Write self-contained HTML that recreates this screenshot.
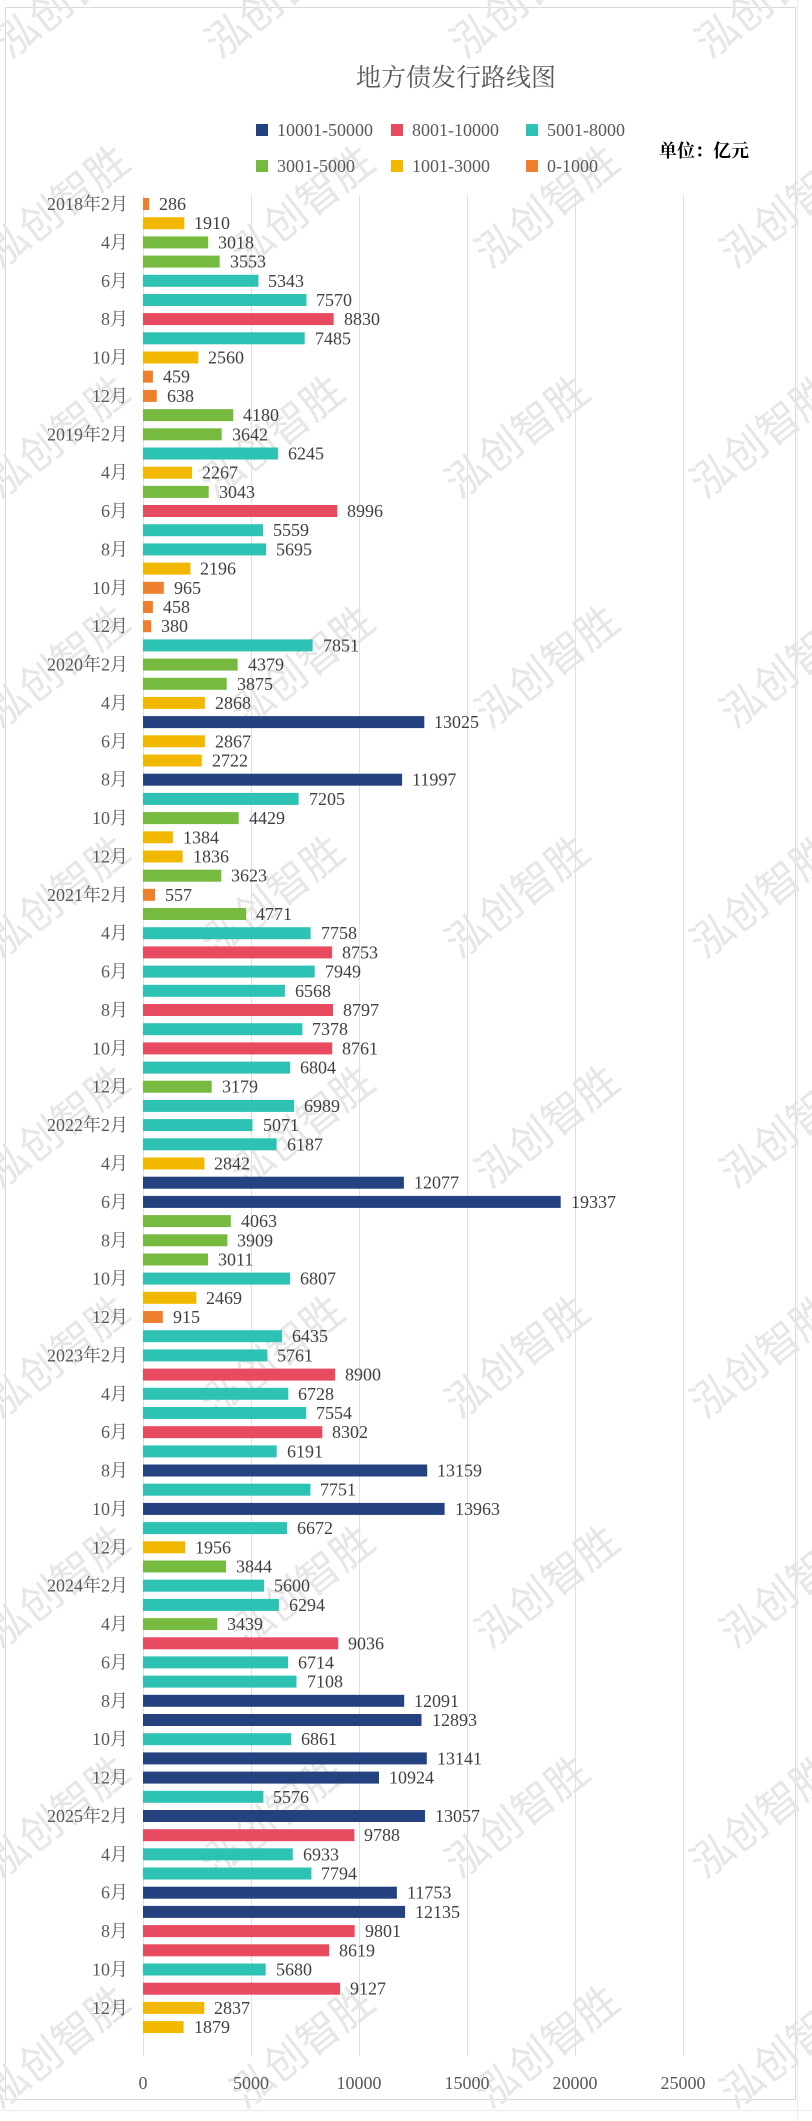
<!DOCTYPE html>
<html><head><meta charset="utf-8"><style>
html,body{margin:0;padding:0;background:#fff;}
svg{display:block;}
.t{font-family:"Liberation Serif","Noto Serif CJK SC",serif;font-size:18px;fill:#404040;}
.c{font-family:"Liberation Serif","Noto Serif CJK SC",serif;font-size:18px;fill:#595959;text-anchor:end;}
.w{font-family:"Noto Sans CJK SC",sans-serif;font-size:42px;fill:#e6e6e6;}
</style></head><body>
<svg width="812" height="2121" xmlns="http://www.w3.org/2000/svg">
<g stroke="#ececec" stroke-width="1">
<line x1="797.5" y1="0" x2="797.5" y2="2121"/>
<line x1="0" y1="2110.5" x2="812" y2="2110.5"/>
</g>
<rect x="5.5" y="7.5" width="790" height="2092" fill="#fff" stroke="#d9d9d9"/>
<g class="w" transform="">
<text transform="translate(10,60) rotate(-38)">泓创智胜</text>
<text transform="translate(220,60) rotate(-38)">泓创智胜</text>
<text transform="translate(465,60) rotate(-38)">泓创智胜</text>
<text transform="translate(710,60) rotate(-38)">泓创智胜</text>
<text transform="translate(0,270) rotate(-38)">泓创智胜</text>
<text transform="translate(245,270) rotate(-38)">泓创智胜</text>
<text transform="translate(490,270) rotate(-38)">泓创智胜</text>
<text transform="translate(735,270) rotate(-38)">泓创智胜</text>
<text transform="translate(0,500) rotate(-38)">泓创智胜</text>
<text transform="translate(215,500) rotate(-38)">泓创智胜</text>
<text transform="translate(460,500) rotate(-38)">泓创智胜</text>
<text transform="translate(705,500) rotate(-38)">泓创智胜</text>
<text transform="translate(0,730) rotate(-38)">泓创智胜</text>
<text transform="translate(245,730) rotate(-38)">泓创智胜</text>
<text transform="translate(490,730) rotate(-38)">泓创智胜</text>
<text transform="translate(735,730) rotate(-38)">泓创智胜</text>
<text transform="translate(0,960) rotate(-38)">泓创智胜</text>
<text transform="translate(215,960) rotate(-38)">泓创智胜</text>
<text transform="translate(460,960) rotate(-38)">泓创智胜</text>
<text transform="translate(705,960) rotate(-38)">泓创智胜</text>
<text transform="translate(0,1190) rotate(-38)">泓创智胜</text>
<text transform="translate(245,1190) rotate(-38)">泓创智胜</text>
<text transform="translate(490,1190) rotate(-38)">泓创智胜</text>
<text transform="translate(735,1190) rotate(-38)">泓创智胜</text>
<text transform="translate(0,1420) rotate(-38)">泓创智胜</text>
<text transform="translate(215,1420) rotate(-38)">泓创智胜</text>
<text transform="translate(460,1420) rotate(-38)">泓创智胜</text>
<text transform="translate(705,1420) rotate(-38)">泓创智胜</text>
<text transform="translate(0,1650) rotate(-38)">泓创智胜</text>
<text transform="translate(245,1650) rotate(-38)">泓创智胜</text>
<text transform="translate(490,1650) rotate(-38)">泓创智胜</text>
<text transform="translate(735,1650) rotate(-38)">泓创智胜</text>
<text transform="translate(0,1880) rotate(-38)">泓创智胜</text>
<text transform="translate(215,1880) rotate(-38)">泓创智胜</text>
<text transform="translate(460,1880) rotate(-38)">泓创智胜</text>
<text transform="translate(705,1880) rotate(-38)">泓创智胜</text>
<text transform="translate(0,2110) rotate(-38)">泓创智胜</text>
<text transform="translate(245,2110) rotate(-38)">泓创智胜</text>
<text transform="translate(490,2110) rotate(-38)">泓创智胜</text>
<text transform="translate(735,2110) rotate(-38)">泓创智胜</text>
</g>
<text x="456" y="86" text-anchor="middle" style="font-family:'Noto Serif CJK SC',serif;font-size:25px;fill:#595959">地方债发行路线图</text>
<g class="t" style="font-size:18px;fill:#595959">
<rect x="256" y="124" width="12" height="12" fill="#24427f"/><text x="277" y="136">10001-50000</text>
<rect x="391" y="124" width="12" height="12" fill="#e84a5f"/><text x="412" y="136">8001-10000</text>
<rect x="526" y="124" width="12" height="12" fill="#2ec2b4"/><text x="547" y="136">5001-8000</text>
<rect x="256" y="160" width="12" height="12" fill="#76bb40"/><text x="277" y="172">3001-5000</text>
<rect x="391" y="160" width="12" height="12" fill="#f2b800"/><text x="412" y="172">1001-3000</text>
<rect x="526" y="160" width="12" height="12" fill="#ef7f2d"/><text x="547" y="172">0-1000</text>
</g>
<text x="659" y="157" style="font-family:'Noto Serif CJK SC',serif;font-size:18px;fill:#000;font-weight:bold">单位：亿元</text>
<g stroke="#e0e0e0" stroke-width="1">
<line x1="143.5" y1="195" x2="143.5" y2="2056"/>
<line x1="251.5" y1="195" x2="251.5" y2="2056"/>
<line x1="359.5" y1="195" x2="359.5" y2="2056"/>
<line x1="467.5" y1="195" x2="467.5" y2="2056"/>
<line x1="575.5" y1="195" x2="575.5" y2="2056"/>
<line x1="683.5" y1="195" x2="683.5" y2="2056"/>
</g>
<g class="t" text-anchor="middle" style="fill:#595959">
<text x="143" y="2089">0</text><text x="251" y="2089">5000</text><text x="359" y="2089">10000</text><text x="467" y="2089">15000</text><text x="575" y="2089">20000</text><text x="683" y="2089">25000</text>
</g>
<g id="bars">
<g transform="translate(143,204)"><rect y="-6" width="6.2" height="12" fill="#ef7f2d"/><text class="t" x="16" y="6">286</text><text class="c" x="-15" y="6">2018年2月</text></g>
<g transform="translate(143,223.2)"><rect y="-6" width="41.3" height="12" fill="#f2b800"/><text class="t" x="51" y="6">1910</text></g>
<g transform="translate(143,242.4)"><rect y="-6" width="65.2" height="12" fill="#76bb40"/><text class="t" x="75" y="6">3018</text><text class="c" x="-15" y="6">4月</text></g>
<g transform="translate(143,261.6)"><rect y="-6" width="76.7" height="12" fill="#76bb40"/><text class="t" x="87" y="6">3553</text></g>
<g transform="translate(143,280.8)"><rect y="-6" width="115.4" height="12" fill="#2ec2b4"/><text class="t" x="125" y="6">5343</text><text class="c" x="-15" y="6">6月</text></g>
<g transform="translate(143,300)"><rect y="-6" width="163.5" height="12" fill="#2ec2b4"/><text class="t" x="173" y="6">7570</text></g>
<g transform="translate(143,319.1)"><rect y="-6" width="190.7" height="12" fill="#e84a5f"/><text class="t" x="201" y="6">8830</text><text class="c" x="-15" y="6">8月</text></g>
<g transform="translate(143,338.3)"><rect y="-6" width="161.7" height="12" fill="#2ec2b4"/><text class="t" x="172" y="6">7485</text></g>
<g transform="translate(143,357.5)"><rect y="-6" width="55.3" height="12" fill="#f2b800"/><text class="t" x="65" y="6">2560</text><text class="c" x="-15" y="6">10月</text></g>
<g transform="translate(143,376.7)"><rect y="-6" width="9.9" height="12" fill="#ef7f2d"/><text class="t" x="20" y="6">459</text></g>
<g transform="translate(143,395.9)"><rect y="-6" width="13.8" height="12" fill="#ef7f2d"/><text class="t" x="24" y="6">638</text><text class="c" x="-15" y="6">12月</text></g>
<g transform="translate(143,415.1)"><rect y="-6" width="90.3" height="12" fill="#76bb40"/><text class="t" x="100" y="6">4180</text></g>
<g transform="translate(143,434.3)"><rect y="-6" width="78.7" height="12" fill="#76bb40"/><text class="t" x="89" y="6">3642</text><text class="c" x="-15" y="6">2019年2月</text></g>
<g transform="translate(143,453.5)"><rect y="-6" width="134.9" height="12" fill="#2ec2b4"/><text class="t" x="145" y="6">6245</text></g>
<g transform="translate(143,472.7)"><rect y="-6" width="49" height="12" fill="#f2b800"/><text class="t" x="59" y="6">2267</text><text class="c" x="-15" y="6">4月</text></g>
<g transform="translate(143,491.9)"><rect y="-6" width="65.7" height="12" fill="#76bb40"/><text class="t" x="76" y="6">3043</text></g>
<g transform="translate(143,511)"><rect y="-6" width="194.3" height="12" fill="#e84a5f"/><text class="t" x="204" y="6">8996</text><text class="c" x="-15" y="6">6月</text></g>
<g transform="translate(143,530.2)"><rect y="-6" width="120.1" height="12" fill="#2ec2b4"/><text class="t" x="130" y="6">5559</text></g>
<g transform="translate(143,549.4)"><rect y="-6" width="123" height="12" fill="#2ec2b4"/><text class="t" x="133" y="6">5695</text><text class="c" x="-15" y="6">8月</text></g>
<g transform="translate(143,568.6)"><rect y="-6" width="47.4" height="12" fill="#f2b800"/><text class="t" x="57" y="6">2196</text></g>
<g transform="translate(143,587.8)"><rect y="-6" width="20.8" height="12" fill="#ef7f2d"/><text class="t" x="31" y="6">965</text><text class="c" x="-15" y="6">10月</text></g>
<g transform="translate(143,607)"><rect y="-6" width="9.9" height="12" fill="#ef7f2d"/><text class="t" x="20" y="6">458</text></g>
<g transform="translate(143,626.2)"><rect y="-6" width="8.2" height="12" fill="#ef7f2d"/><text class="t" x="18" y="6">380</text><text class="c" x="-15" y="6">12月</text></g>
<g transform="translate(143,645.4)"><rect y="-6" width="169.6" height="12" fill="#2ec2b4"/><text class="t" x="180" y="6">7851</text></g>
<g transform="translate(143,664.6)"><rect y="-6" width="94.6" height="12" fill="#76bb40"/><text class="t" x="105" y="6">4379</text><text class="c" x="-15" y="6">2020年2月</text></g>
<g transform="translate(143,683.8)"><rect y="-6" width="83.7" height="12" fill="#76bb40"/><text class="t" x="94" y="6">3875</text></g>
<g transform="translate(143,702.9)"><rect y="-6" width="61.9" height="12" fill="#f2b800"/><text class="t" x="72" y="6">2868</text><text class="c" x="-15" y="6">4月</text></g>
<g transform="translate(143,722.1)"><rect y="-6" width="281.3" height="12" fill="#24427f"/><text class="t" x="291" y="6">13025</text></g>
<g transform="translate(143,741.3)"><rect y="-6" width="61.9" height="12" fill="#f2b800"/><text class="t" x="72" y="6">2867</text><text class="c" x="-15" y="6">6月</text></g>
<g transform="translate(143,760.5)"><rect y="-6" width="58.8" height="12" fill="#f2b800"/><text class="t" x="69" y="6">2722</text></g>
<g transform="translate(143,779.7)"><rect y="-6" width="259.1" height="12" fill="#24427f"/><text class="t" x="269" y="6">11997</text><text class="c" x="-15" y="6">8月</text></g>
<g transform="translate(143,798.9)"><rect y="-6" width="155.6" height="12" fill="#2ec2b4"/><text class="t" x="166" y="6">7205</text></g>
<g transform="translate(143,818.1)"><rect y="-6" width="95.7" height="12" fill="#76bb40"/><text class="t" x="106" y="6">4429</text><text class="c" x="-15" y="6">10月</text></g>
<g transform="translate(143,837.3)"><rect y="-6" width="29.9" height="12" fill="#f2b800"/><text class="t" x="40" y="6">1384</text></g>
<g transform="translate(143,856.5)"><rect y="-6" width="39.7" height="12" fill="#f2b800"/><text class="t" x="50" y="6">1836</text><text class="c" x="-15" y="6">12月</text></g>
<g transform="translate(143,875.7)"><rect y="-6" width="78.3" height="12" fill="#76bb40"/><text class="t" x="88" y="6">3623</text></g>
<g transform="translate(143,894.8)"><rect y="-6" width="12" height="12" fill="#ef7f2d"/><text class="t" x="22" y="6">557</text><text class="c" x="-15" y="6">2021年2月</text></g>
<g transform="translate(143,914)"><rect y="-6" width="103.1" height="12" fill="#76bb40"/><text class="t" x="113" y="6">4771</text></g>
<g transform="translate(143,933.2)"><rect y="-6" width="167.6" height="12" fill="#2ec2b4"/><text class="t" x="178" y="6">7758</text><text class="c" x="-15" y="6">4月</text></g>
<g transform="translate(143,952.4)"><rect y="-6" width="189.1" height="12" fill="#e84a5f"/><text class="t" x="199" y="6">8753</text></g>
<g transform="translate(143,971.6)"><rect y="-6" width="171.7" height="12" fill="#2ec2b4"/><text class="t" x="182" y="6">7949</text><text class="c" x="-15" y="6">6月</text></g>
<g transform="translate(143,990.8)"><rect y="-6" width="141.9" height="12" fill="#2ec2b4"/><text class="t" x="152" y="6">6568</text></g>
<g transform="translate(143,1010)"><rect y="-6" width="190" height="12" fill="#e84a5f"/><text class="t" x="200" y="6">8797</text><text class="c" x="-15" y="6">8月</text></g>
<g transform="translate(143,1029.2)"><rect y="-6" width="159.4" height="12" fill="#2ec2b4"/><text class="t" x="169" y="6">7378</text></g>
<g transform="translate(143,1048.4)"><rect y="-6" width="189.2" height="12" fill="#e84a5f"/><text class="t" x="199" y="6">8761</text><text class="c" x="-15" y="6">10月</text></g>
<g transform="translate(143,1067.6)"><rect y="-6" width="147" height="12" fill="#2ec2b4"/><text class="t" x="157" y="6">6804</text></g>
<g transform="translate(143,1086.7)"><rect y="-6" width="68.7" height="12" fill="#76bb40"/><text class="t" x="79" y="6">3179</text><text class="c" x="-15" y="6">12月</text></g>
<g transform="translate(143,1105.9)"><rect y="-6" width="151" height="12" fill="#2ec2b4"/><text class="t" x="161" y="6">6989</text></g>
<g transform="translate(143,1125.1)"><rect y="-6" width="109.5" height="12" fill="#2ec2b4"/><text class="t" x="120" y="6">5071</text><text class="c" x="-15" y="6">2022年2月</text></g>
<g transform="translate(143,1144.3)"><rect y="-6" width="133.6" height="12" fill="#2ec2b4"/><text class="t" x="144" y="6">6187</text></g>
<g transform="translate(143,1163.5)"><rect y="-6" width="61.4" height="12" fill="#f2b800"/><text class="t" x="71" y="6">2842</text><text class="c" x="-15" y="6">4月</text></g>
<g transform="translate(143,1182.7)"><rect y="-6" width="260.9" height="12" fill="#24427f"/><text class="t" x="271" y="6">12077</text></g>
<g transform="translate(143,1201.9)"><rect y="-6" width="417.7" height="12" fill="#24427f"/><text class="t" x="428" y="6">19337</text><text class="c" x="-15" y="6">6月</text></g>
<g transform="translate(143,1221.1)"><rect y="-6" width="87.8" height="12" fill="#76bb40"/><text class="t" x="98" y="6">4063</text></g>
<g transform="translate(143,1240.3)"><rect y="-6" width="84.4" height="12" fill="#76bb40"/><text class="t" x="94" y="6">3909</text><text class="c" x="-15" y="6">8月</text></g>
<g transform="translate(143,1259.5)"><rect y="-6" width="65" height="12" fill="#76bb40"/><text class="t" x="75" y="6">3011</text></g>
<g transform="translate(143,1278.6)"><rect y="-6" width="147" height="12" fill="#2ec2b4"/><text class="t" x="157" y="6">6807</text><text class="c" x="-15" y="6">10月</text></g>
<g transform="translate(143,1297.8)"><rect y="-6" width="53.3" height="12" fill="#f2b800"/><text class="t" x="63" y="6">2469</text></g>
<g transform="translate(143,1317)"><rect y="-6" width="19.8" height="12" fill="#ef7f2d"/><text class="t" x="30" y="6">915</text><text class="c" x="-15" y="6">12月</text></g>
<g transform="translate(143,1336.2)"><rect y="-6" width="139" height="12" fill="#2ec2b4"/><text class="t" x="149" y="6">6435</text></g>
<g transform="translate(143,1355.4)"><rect y="-6" width="124.4" height="12" fill="#2ec2b4"/><text class="t" x="134" y="6">5761</text><text class="c" x="-15" y="6">2023年2月</text></g>
<g transform="translate(143,1374.6)"><rect y="-6" width="192.2" height="12" fill="#e84a5f"/><text class="t" x="202" y="6">8900</text></g>
<g transform="translate(143,1393.8)"><rect y="-6" width="145.3" height="12" fill="#2ec2b4"/><text class="t" x="155" y="6">6728</text><text class="c" x="-15" y="6">4月</text></g>
<g transform="translate(143,1413)"><rect y="-6" width="163.2" height="12" fill="#2ec2b4"/><text class="t" x="173" y="6">7554</text></g>
<g transform="translate(143,1432.2)"><rect y="-6" width="179.3" height="12" fill="#e84a5f"/><text class="t" x="189" y="6">8302</text><text class="c" x="-15" y="6">6月</text></g>
<g transform="translate(143,1451.4)"><rect y="-6" width="133.7" height="12" fill="#2ec2b4"/><text class="t" x="144" y="6">6191</text></g>
<g transform="translate(143,1470.5)"><rect y="-6" width="284.2" height="12" fill="#24427f"/><text class="t" x="294" y="6">13159</text><text class="c" x="-15" y="6">8月</text></g>
<g transform="translate(143,1489.7)"><rect y="-6" width="167.4" height="12" fill="#2ec2b4"/><text class="t" x="177" y="6">7751</text></g>
<g transform="translate(143,1508.9)"><rect y="-6" width="301.6" height="12" fill="#24427f"/><text class="t" x="312" y="6">13963</text><text class="c" x="-15" y="6">10月</text></g>
<g transform="translate(143,1528.1)"><rect y="-6" width="144.1" height="12" fill="#2ec2b4"/><text class="t" x="154" y="6">6672</text></g>
<g transform="translate(143,1547.3)"><rect y="-6" width="42.2" height="12" fill="#f2b800"/><text class="t" x="52" y="6">1956</text><text class="c" x="-15" y="6">12月</text></g>
<g transform="translate(143,1566.5)"><rect y="-6" width="83" height="12" fill="#76bb40"/><text class="t" x="93" y="6">3844</text></g>
<g transform="translate(143,1585.7)"><rect y="-6" width="121" height="12" fill="#2ec2b4"/><text class="t" x="131" y="6">5600</text><text class="c" x="-15" y="6">2024年2月</text></g>
<g transform="translate(143,1604.9)"><rect y="-6" width="135.9" height="12" fill="#2ec2b4"/><text class="t" x="146" y="6">6294</text></g>
<g transform="translate(143,1624.1)"><rect y="-6" width="74.3" height="12" fill="#76bb40"/><text class="t" x="84" y="6">3439</text><text class="c" x="-15" y="6">4月</text></g>
<g transform="translate(143,1643.3)"><rect y="-6" width="195.2" height="12" fill="#e84a5f"/><text class="t" x="205" y="6">9036</text></g>
<g transform="translate(143,1662.4)"><rect y="-6" width="145" height="12" fill="#2ec2b4"/><text class="t" x="155" y="6">6714</text><text class="c" x="-15" y="6">6月</text></g>
<g transform="translate(143,1681.6)"><rect y="-6" width="153.5" height="12" fill="#2ec2b4"/><text class="t" x="164" y="6">7108</text></g>
<g transform="translate(143,1700.8)"><rect y="-6" width="261.2" height="12" fill="#24427f"/><text class="t" x="271" y="6">12091</text><text class="c" x="-15" y="6">8月</text></g>
<g transform="translate(143,1720)"><rect y="-6" width="278.5" height="12" fill="#24427f"/><text class="t" x="289" y="6">12893</text></g>
<g transform="translate(143,1739.2)"><rect y="-6" width="148.2" height="12" fill="#2ec2b4"/><text class="t" x="158" y="6">6861</text><text class="c" x="-15" y="6">10月</text></g>
<g transform="translate(143,1758.4)"><rect y="-6" width="283.8" height="12" fill="#24427f"/><text class="t" x="294" y="6">13141</text></g>
<g transform="translate(143,1777.6)"><rect y="-6" width="236" height="12" fill="#24427f"/><text class="t" x="246" y="6">10924</text><text class="c" x="-15" y="6">12月</text></g>
<g transform="translate(143,1796.8)"><rect y="-6" width="120.4" height="12" fill="#2ec2b4"/><text class="t" x="130" y="6">5576</text></g>
<g transform="translate(143,1816)"><rect y="-6" width="282" height="12" fill="#24427f"/><text class="t" x="292" y="6">13057</text><text class="c" x="-15" y="6">2025年2月</text></g>
<g transform="translate(143,1835.2)"><rect y="-6" width="211.4" height="12" fill="#e84a5f"/><text class="t" x="221" y="6">9788</text></g>
<g transform="translate(143,1854.3)"><rect y="-6" width="149.8" height="12" fill="#2ec2b4"/><text class="t" x="160" y="6">6933</text><text class="c" x="-15" y="6">4月</text></g>
<g transform="translate(143,1873.5)"><rect y="-6" width="168.4" height="12" fill="#2ec2b4"/><text class="t" x="178" y="6">7794</text></g>
<g transform="translate(143,1892.7)"><rect y="-6" width="253.9" height="12" fill="#24427f"/><text class="t" x="264" y="6">11753</text><text class="c" x="-15" y="6">6月</text></g>
<g transform="translate(143,1911.9)"><rect y="-6" width="262.1" height="12" fill="#24427f"/><text class="t" x="272" y="6">12135</text></g>
<g transform="translate(143,1931.1)"><rect y="-6" width="211.7" height="12" fill="#e84a5f"/><text class="t" x="222" y="6">9801</text><text class="c" x="-15" y="6">8月</text></g>
<g transform="translate(143,1950.3)"><rect y="-6" width="186.2" height="12" fill="#e84a5f"/><text class="t" x="196" y="6">8619</text></g>
<g transform="translate(143,1969.5)"><rect y="-6" width="122.7" height="12" fill="#2ec2b4"/><text class="t" x="133" y="6">5680</text><text class="c" x="-15" y="6">10月</text></g>
<g transform="translate(143,1988.7)"><rect y="-6" width="197.1" height="12" fill="#e84a5f"/><text class="t" x="207" y="6">9127</text></g>
<g transform="translate(143,2007.9)"><rect y="-6" width="61.3" height="12" fill="#f2b800"/><text class="t" x="71" y="6">2837</text><text class="c" x="-15" y="6">12月</text></g>
<g transform="translate(143,2027.1)"><rect y="-6" width="40.6" height="12" fill="#f2b800"/><text class="t" x="51" y="6">1879</text></g>
</g>
</svg>
</body></html>
